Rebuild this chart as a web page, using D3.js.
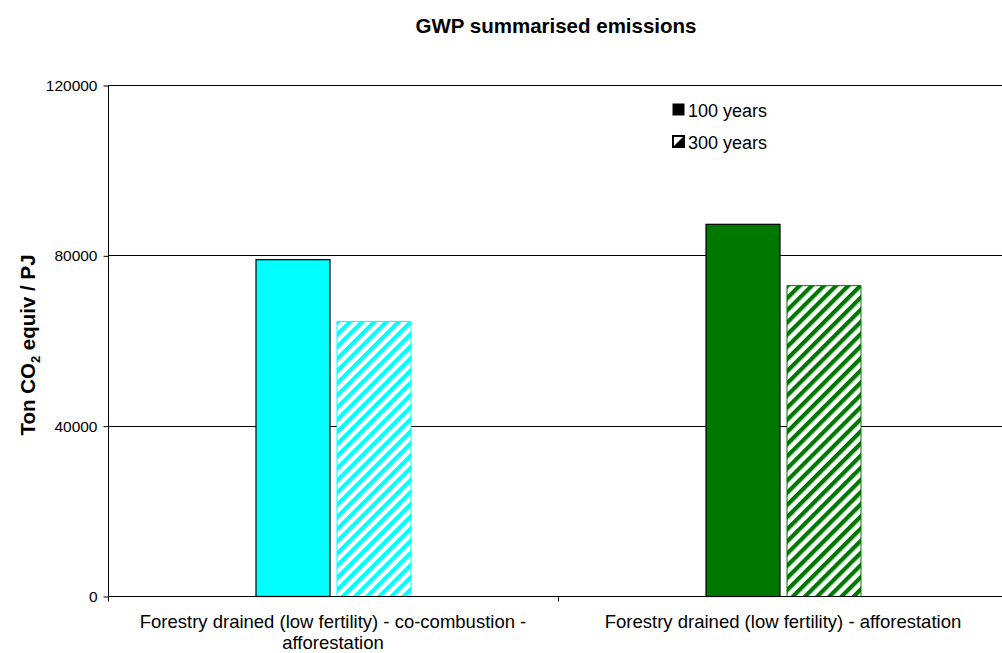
<!DOCTYPE html>
<html>
<head>
<meta charset="utf-8">
<script src="https://cdn.jsdelivr.net/npm/d3@7"></script>
<style>
  html, body { margin: 0; padding: 0; background: #fff; }
  svg { display: block; font-family: "Liberation Sans", Arial, sans-serif; }
</style>
</head>
<body>
<svg id="chart" width="1002" height="653"></svg>
<script>
// Chart data
const categories = [
  ["Forestry drained (low fertility) - co-combustion -", "afforestation"],
  ["Forestry drained (low fertility) - afforestation"]
];
const seriesNames = ["100 years", "300 years"];
const values100 = [79100, 87400];
const values300 = [64600, 73000];
const barColors = ["#00ffff", "#007700"];
const yTicks = [0, 40000, 80000, 120000];

const svg = d3.select("#chart");
const margin = { left: 108, top: 85, right: 1008, bottom: 596 };

const x = d3.scaleBand().domain(d3.range(categories.length)).range([margin.left, margin.right]);
const y = d3.scaleLinear().domain([0, 120000]).range([margin.bottom, margin.top]);

// Diagonal hatch patterns for the 300-year series
const defs = svg.append("defs");
barColors.forEach((c, i) => {
  const p = defs.append("pattern")
    .attr("id", "hatch" + i)
    .attr("patternUnits", "userSpaceOnUse")
    .attr("width", 8.6).attr("height", 8.6)
    .attr("patternTransform", "rotate(45)");
  p.append("rect").attr("width", 8.6).attr("height", 8.6).attr("fill", "#fff");
  p.append("rect").attr("x", 0).attr("width", 4.2).attr("height", 8.6).attr("fill", c);
});

// Gridlines
svg.append("g").selectAll("line").data(yTicks.filter(d => d > 0)).join("line")
  .attr("x1", margin.left).attr("x2", 1002)
  .attr("y1", d => Math.round(y(d)) + 0.5).attr("y2", d => Math.round(y(d)) + 0.5)
  .attr("stroke", "#000").attr("stroke-width", 1);

// Y axis
const yAxis = svg.append("g")
  .attr("transform", `translate(${margin.left + 0.5},0.5)`)
  .call(d3.axisLeft(y).tickValues(yTicks).tickSize(5).tickPadding(6).tickFormat(d3.format("d")));
yAxis.select(".domain").attr("d", `M0,${margin.top}V${margin.bottom}`);
yAxis.selectAll("text").attr("font-size", 15.5).attr("fill", "#000").attr("font-family", "Liberation Sans, Arial, sans-serif");
yAxis.selectAll("line").attr("stroke", "#000");

// Bars
const barW = 74, gap = 7;
const groupW = barW * 2 + gap;
const bars = svg.append("g");
categories.forEach((c, i) => {
  const cx = x(i) + x.bandwidth() / 2;
  const x0 = cx - groupW / 2;
  bars.append("rect")
    .attr("x", x0 + 0.5).attr("y", y(values100[i]) + 0.5)
    .attr("width", barW).attr("height", y(0) - y(values100[i]))
    .attr("fill", barColors[i]).attr("stroke", "#000").attr("stroke-width", 1.2);
  bars.append("rect")
    .attr("x", x0 + barW + gap + 0.5).attr("y", y(values300[i]) + 0.5)
    .attr("width", barW).attr("height", y(0) - y(values300[i]))
    .attr("fill", `url(#hatch${i})`).attr("stroke", barColors[i]).attr("stroke-width", 1);
});

// X axis
const xAxisY = Math.round(y(0)) + 0.5;
svg.append("line").attr("x1", margin.left).attr("x2", 1002)
  .attr("y1", xAxisY).attr("y2", xAxisY).attr("stroke", "#000");
[margin.left, x(1)].forEach(t => {
  svg.append("line").attr("x1", Math.round(t) + 0.5).attr("x2", Math.round(t) + 0.5)
    .attr("y1", xAxisY).attr("y2", xAxisY + 5).attr("stroke", "#000");
});
categories.forEach((lines, i) => {
  const cx = x(i) + x.bandwidth() / 2;
  const t = svg.append("text").attr("text-anchor", "middle").attr("font-size", 18.5).attr("fill", "#000");
  lines.forEach((ln, j) => {
    t.append("tspan").attr("x", cx).attr("y", 628 + j * 21).text(ln);
  });
});

// Title
svg.append("text").attr("x", 556).attr("y", 33).attr("text-anchor", "middle")
  .attr("font-size", 20.5).attr("font-weight", "bold").text("GWP summarised emissions");

// Y axis title with subscript
const yt = svg.append("text")
  .attr("transform", "translate(35,345) rotate(-90)")
  .attr("text-anchor", "middle").attr("font-size", 20.5).attr("font-weight", "bold");
yt.append("tspan").text("Ton CO");
yt.append("tspan").attr("font-size", 13).attr("dy", 5).text("2");
yt.append("tspan").attr("dy", -5).text(" equiv / PJ");

// Legend
const lg = svg.append("g").attr("transform", "translate(672,103)");
lg.append("rect").attr("x", 0.5).attr("y", 0.5).attr("width", 12).attr("height", 12).attr("fill", "#000");
lg.append("text").attr("x", 16).attr("y", 14).attr("font-size", 18).text(seriesNames[0]);
const l2 = lg.append("g").attr("transform", "translate(0,32)");
l2.append("rect").attr("x", 1).attr("y", 1).attr("width", 11).attr("height", 11).attr("fill", "#fff").attr("stroke", "#000").attr("stroke-width", 2);
l2.append("path").attr("d", "M1,12 L12,1 L12,12 Z").attr("fill", "#000");
l2.append("text").attr("x", 16).attr("y", 14).attr("font-size", 18).text(seriesNames[1]);
</script>
</body>
</html>
